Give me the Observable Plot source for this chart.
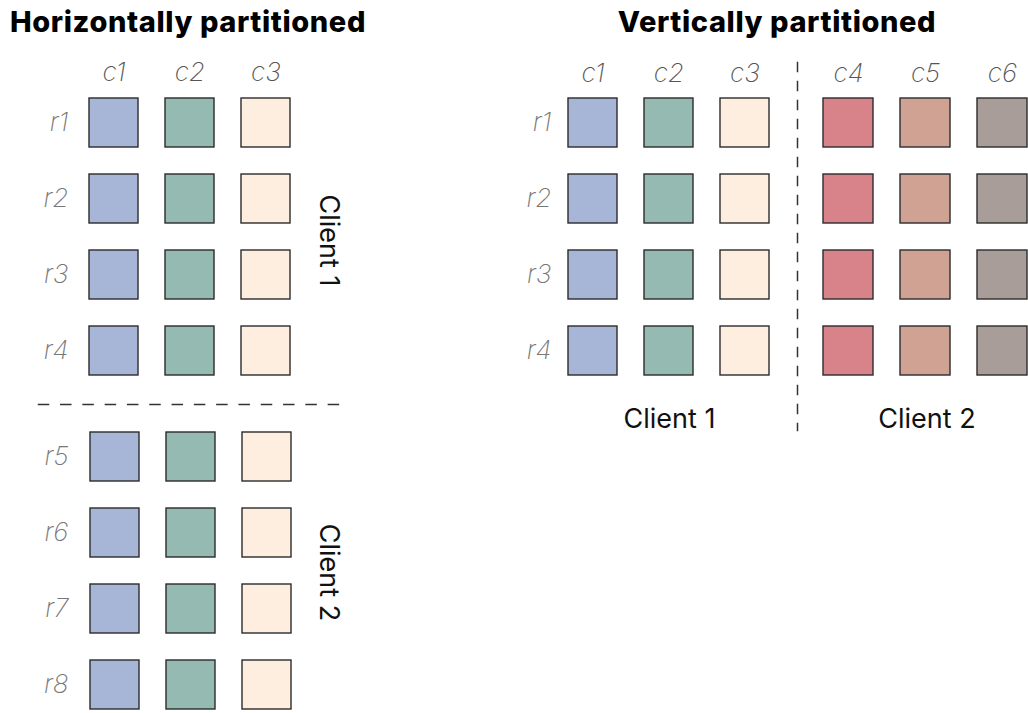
<!DOCTYPE html>
<html>
<head>
<meta charset="utf-8">
<script src="https://cdn.jsdelivr.net/npm/d3@7"></script>
<script src="https://cdn.jsdelivr.net/npm/@observablehq/plot@0.6"></script>
<style>
  html, body { margin: 0; padding: 0; background: #fff; overflow: hidden; }
  #wrap { position: relative; width: 1028px; height: 713px; overflow: hidden; font-family: Inter, "Noto Sans", sans-serif; }
  .title { position: absolute; top: 1px; font-size: 29px; font-weight: 800; letter-spacing: 0.6px; color: #000; white-space: nowrap; line-height: 42px; }
</style>
</head>
<body>
<div id="wrap"></div>
<script>
// ---- data ----
const panelTitles = ["Horizontally partitioned", "Vertically partitioned"];
const clients = ["Client 1", "Client 2"];
const allCols = ["c1", "c2", "c3", "c4", "c5", "c6"];
const colColors = ["#a7b5d6", "#95bab2", "#fdeedf", "#d8838a", "#d0a293", "#a89d98"];
const hCols = ["c1", "c2", "c3"];            // horizontal partition: every client has all columns
const hClient1Rows = ["r1", "r2", "r3", "r4"];
const hClient2Rows = ["r5", "r6", "r7", "r8"];
const vRows = ["r1", "r2", "r3", "r4"];      // vertical partition: every client has all rows
const vClient1Cols = ["c1", "c2", "c3"];
const vClient2Cols = ["c4", "c5", "c6"];

const W = 1028, H = 713;
const wrap = document.getElementById("wrap");

function cells(rows, cols) {
  return d3.cross(rows, cols).map(([row, col]) => ({row, col}));
}

const labelStyle = {fontSize: 26, fontStyle: "italic", fontWeight: 200, fontFamily: "Inter, sans-serif"};

function block({rows, cols, layout, colAxis, rowAxis, extra}) {
  const marks = [
    Plot.cell(cells(rows, cols), {x: "col", y: "row", fill: "col", stroke: "#2b2b2b", strokeWidth: 1.4, inset: 0})
  ];
  if (colAxis) marks.push(Plot.axisX({anchor: "top", tickSize: 0, label: null, ...colAxis, fill: "#555", ...labelStyle}));
  if (rowAxis) marks.push(Plot.axisY({anchor: "left", tickSize: 0, tickPadding: 0, label: null, ...rowAxis, fill: "#777", ...labelStyle}));
  marks.push(...extra);
  const svg = Plot.plot({
    width: W, height: H,
    ...layout.margins,
    style: "background:none;max-width:none;position:absolute;left:0;top:0;overflow:visible;font-family:Inter,sans-serif;",
    x: {type: "band", domain: cols, paddingInner: 0.35, paddingOuter: 0, axis: null, label: null, ...layout.x},
    y: {type: "band", domain: rows, paddingInner: 0.35, paddingOuter: 0, axis: null, label: null, ...layout.y},
    color: {domain: allCols, range: colColors},
    marks
  });
  wrap.appendChild(svg);
}

const clientText = {fontSize: 27, fill: "#111", fontFamily: "Inter, sans-serif", fontWeight: 400};

// ---- Horizontally partitioned: Client 1 ----
block({
  rows: hClient1Rows, cols: hCols,
  layout: {
    margins: {marginTop: 96, marginBottom: H - 404, marginLeft: 38, marginRight: W - 338},
    x: {insetLeft: 50, insetRight: 46},
    y: {insetBottom: 27}
  },
  colAxis: {tickPadding: 16},
  rowAxis: {dx: 30},
  extra: [
    Plot.frame({anchor: "bottom", stroke: "#333", strokeWidth: 1.5, strokeDasharray: "10,12.3"}),
    Plot.text([clients[0]], {text: d => d, frameAnchor: "right", textAnchor: "middle", lineAnchor: "middle", rotate: 90, dx: -10, dy: -10, ...clientText})
  ]
});

// ---- Horizontally partitioned: Client 2 ----
block({
  rows: hClient2Rows, cols: hCols,
  layout: {
    margins: {marginTop: 431, marginBottom: H - 711, marginLeft: 38, marginRight: W - 338},
    x: {insetLeft: 51, insetRight: 45},
    y: {}
  },
  rowAxis: {dx: 30},
  extra: [
    Plot.text([clients[1]], {text: d => d, frameAnchor: "right", textAnchor: "middle", lineAnchor: "middle", rotate: 90, dx: -10, dy: 1, ...clientText})
  ]
});

// ---- Vertically partitioned: Client 1 ----
block({
  rows: vRows, cols: vClient1Cols,
  layout: {
    margins: {marginTop: 62, marginBottom: H - 430, marginLeft: 541, marginRight: W - 797},
    x: {insetLeft: 26, insetRight: 26},
    y: {insetTop: 34, insetBottom: 53}
  },
  colAxis: {tickPadding: 0, dy: 19},
  rowAxis: {dx: 10},
  extra: [
    Plot.frame({anchor: "right", stroke: "#333", strokeWidth: 1.5, strokeDasharray: "9,10"}),
    Plot.text([clients[0]], {text: d => d, frameAnchor: "bottom", textAnchor: "middle", dy: -3, ...clientText})
  ]
});

// ---- Vertically partitioned: Client 2 ----
block({
  rows: vRows, cols: vClient2Cols,
  layout: {
    margins: {marginTop: 62, marginBottom: H - 430, marginLeft: 797, marginRight: 0},
    x: {insetLeft: 26, insetRight: 0},
    y: {insetTop: 34, insetBottom: 53}
  },
  colAxis: {tickPadding: 0, dy: 19},
  extra: [
    Plot.text([clients[1]], {text: d => d, frameAnchor: "bottom", textAnchor: "middle", dx: 14, dy: -3, ...clientText})
  ]
});

// ---- titles ----
const t1 = document.createElement("div");
t1.className = "title"; t1.style.left = "10px"; t1.textContent = panelTitles[0];
wrap.appendChild(t1);
const t2 = document.createElement("div");
t2.className = "title"; t2.style.left = "777px"; t2.style.transform = "translateX(-50%)"; t2.textContent = panelTitles[1];
wrap.appendChild(t2);
</script>
</body>
</html>
